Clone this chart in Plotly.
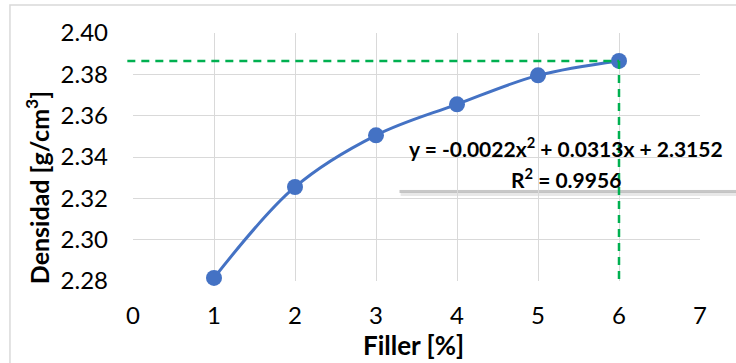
import plotly.graph_objects as go

filler = [1, 2, 3, 4, 5, 6]
densidad = [2.2815, 2.3255, 2.3505, 2.3655, 2.3795, 2.3865]
x_ticks = [0, 1, 2, 3, 4, 5, 6, 7]
y_ticks = [2.28, 2.30, 2.32, 2.34, 2.36, 2.38, 2.40]
y_tick_labels = ["2.28", "2.30", "2.32", "2.34", "2.36", "2.38", "2.40"]
eq_text = "y = -0.0022x<sup>2</sup> + 0.0313x + 2.3152"
r2_text = "R<sup>2</sup> = 0.9956"
x_title = "Filler [%]"
y_title = "Densidad [g/cm<sup>3</sup>]"

x_range = [0, 7]
y_range = [2.28, 2.40]
ref_x = filler[-1]
ref_y = densidad[-1]

FONT = "Lato"
fig = go.Figure()
fig.add_trace(go.Scatter(
    x=filler, y=densidad, mode="lines+markers",
    line=dict(color="#4472C4", width=3, shape="spline", smoothing=1.0),
    marker=dict(color="#4472C4", size=16),
    cliponaxis=False, showlegend=False,
))

xf = lambda v: (v - x_range[0]) / (x_range[1] - x_range[0])

shapes = [
    # chart border
    dict(type="rect", xref="paper", yref="paper", x0=-0.217, x1=1.2, y0=-0.5, y1=1.113,
         line=dict(color="#D9D9D9", width=1.5), fillcolor="rgba(0,0,0,0)", layer="below"),
    # soft shadow under the text box
    dict(type="rect", xref="paper", yref="paper", x0=0.472, x1=1.07, y0=0.343, y1=0.356,
         line=dict(width=0), fillcolor="rgba(0,0,0,0.09)", layer="between"),
    dict(type="rect", xref="paper", yref="paper", x0=0.470, x1=1.07, y0=0.355, y1=0.368,
         line=dict(width=0), fillcolor="rgba(0,0,0,0.22)", layer="between"),
    # text box
    dict(type="rect", xref="paper", yref="paper", x0=0.467, x1=1.07, y0=0.367, y1=0.617,
         line=dict(width=0), fillcolor="rgba(255,255,255,0.85)", layer="between"),
    # green dashed reference lines
    dict(type="line", xref="paper", yref="y", x0=-0.01, x1=xf(ref_x), y0=ref_y, y1=ref_y,
         line=dict(color="#00B050", width=2.5, dash="8px,6px"), layer="above"),
    dict(type="line", xref="x", yref="y", x0=ref_x, x1=ref_x, y0=ref_y, y1=y_range[0],
         line=dict(color="#00B050", width=2.5, dash="8px,6px"), layer="above"),
]

bold = lambda s: dict(family=FONT, size=s, color="#000000", weight="bold")
annotations = [
    dict(text=eq_text, xref="paper", yref="paper", x=0.764, y=0.54, showarrow=False,
         font=bold(21), xanchor="center", yanchor="middle"),
    dict(text=r2_text, xref="paper", yref="paper", x=0.764, y=0.415, showarrow=False,
         font=bold(21), xanchor="center", yanchor="middle"),
    dict(text=x_title, xref="paper", yref="paper", x=0.495, y=-0.258, showarrow=False,
         font=bold(26), xanchor="center", yanchor="middle"),
    dict(text=y_title, xref="paper", yref="paper", x=-0.169, y=0.375, showarrow=False,
         font=bold(25), xanchor="center", yanchor="middle", textangle=-90),
]

fig.update_layout(
    width=736, height=363,
    margin=dict(l=133, r=36, t=33, b=82),
    paper_bgcolor="white", plot_bgcolor="white",
    font=dict(family=FONT, color="#000000"),
    shapes=shapes, annotations=annotations,
    xaxis=dict(range=x_range, tickvals=x_ticks, showgrid=True, gridcolor="#D9D9D9", gridwidth=1.3,
               zeroline=False, showline=False, ticks="", ticklabelstandoff=18,
               tickfont=dict(family=FONT, size=24, color="#000000")),
    yaxis=dict(range=y_range, tickvals=y_ticks, ticktext=y_tick_labels, showgrid=True, gridcolor="#D9D9D9",
               gridwidth=1.3, zeroline=False, showline=False, ticks="", ticklabelstandoff=24,
               tickfont=dict(family=FONT, size=24, color="#000000")),
)

fig.write_html("out.html")
